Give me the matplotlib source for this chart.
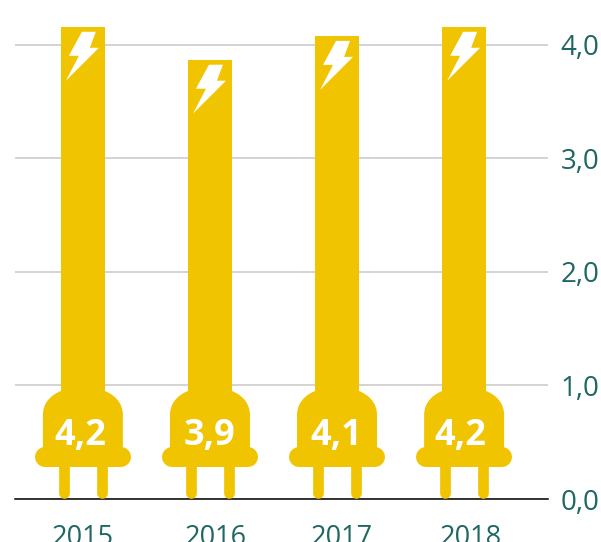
#! python3
# -*- coding:utf-8 -*-
import matplotlib
matplotlib.use('Agg')
import matplotlib.pyplot as plt
from matplotlib.patches import PathPatch
from matplotlib.path import Path
from matplotlib.transforms import Affine2D, ScaledTranslation

years = ['2015', '2016', '2017', '2018']
heights = [4.16, 3.87, 4.08, 4.16]  # bar tops as drawn
labels = ['4,2', '3,9', '4,1', '4,2']
yticks = [0, 1, 2, 3, 4]

YELLOW = '#f0c400'
TEAL = '#1f6762'
FONT = 'Open Sans'
PLUG_BASE = 0.5  # the bar stops inside the plug, prongs reach the axis

# texts sit slightly off centre in the original, in pixels
label_shift = [-3, 0, -0.5, -4]
year_shift = [0, 6, 5, 6.5]

# plug and bolt outlines, in pixels from bar centre
BODY = Path(
    [(-22, 108), (-32, 104), (-40, 96), (-40, 84), (-40, 42), (40, 42), (40, 84),
     (40, 96), (32, 104), (22, 108), (-22, 108)],
    [Path.MOVETO, Path.CURVE4, Path.CURVE4, Path.CURVE4, Path.LINETO, Path.LINETO,
     Path.LINETO, Path.CURVE4, Path.CURVE4, Path.CURVE4, Path.CLOSEPOLY])
BOLT = Path([(-1, -5), (13, -5), (7, -21), (16, -21), (-17, -54), (-4, -29), (-14, -29), (-1, -5)],
            closed=True)

fig = plt.figure(figsize=(6.01, 5.42), dpi=100)
ax = fig.add_axes([15 / 601, 43 / 542, 533 / 601, 499 / 542])
ax.set_xlim(-0.534, 3.66)
ax.set_ylim(0, 4.396)

xs = list(range(len(years)))
ax.bar(xs, [h - PLUG_BASE for h in heights], bottom=PLUG_BASE, width=0.3455, color=YELLOW, zorder=2)

px = 100 / 72
for x, h, lab, shift in zip(xs, heights, labels, label_shift):
    # transforms in pixels, anchored on the data position
    base = Affine2D() + ScaledTranslation(x, 0, ax.transData)
    top = Affine2D() + ScaledTranslation(x, h, ax.transData)
    ax.add_patch(PathPatch(BODY, fc=YELLOW, ec='none', transform=base, zorder=3, clip_on=False))
    ax.plot([-38, 38], [42, 42], color=YELLOW, lw=20 / px, solid_capstyle='round', transform=base, zorder=3)
    for off in (-19.3, 19.3):
        ax.plot([off, off], [6, 40], color=YELLOW, lw=10.7 / px, solid_capstyle='round', transform=base, zorder=3)
    ax.add_patch(PathPatch(BOLT, fc='white', ec='none', transform=top, zorder=4))
    ax.annotate(lab, (x, 0), xytext=(shift / px, 63 / px), textcoords='offset points',
                color='white', fontsize=26, fontweight='bold', family=FONT,
                ha='center', va='center', zorder=5)

ax.yaxis.tick_right()
ax.set_yticks(yticks)
ax.set_yticklabels(['%d,0' % t for t in yticks], family=FONT, fontsize=20, color=TEAL)
ax.tick_params(axis='y', length=0, pad=9)
ax.set_xticks(xs)
ax.set_xticklabels(years, family=FONT, fontsize=19.5, color=TEAL)
ax.tick_params(axis='x', length=0, pad=18)
for tl, s in zip(ax.get_xticklabels(), year_shift):
    tl.set_transform(tl.get_transform() + Affine2D().translate(s, 0))
ax.grid(axis='y', color='#c8c8c8', lw=1.1, zorder=1)
ax.set_axisbelow(True)

for side in ['top', 'right', 'left']:
    ax.spines[side].set_visible(False)
ax.spines['bottom'].set_color('black')
ax.spines['bottom'].set_linewidth(1.1)

fig.savefig('out.png', dpi=100)
